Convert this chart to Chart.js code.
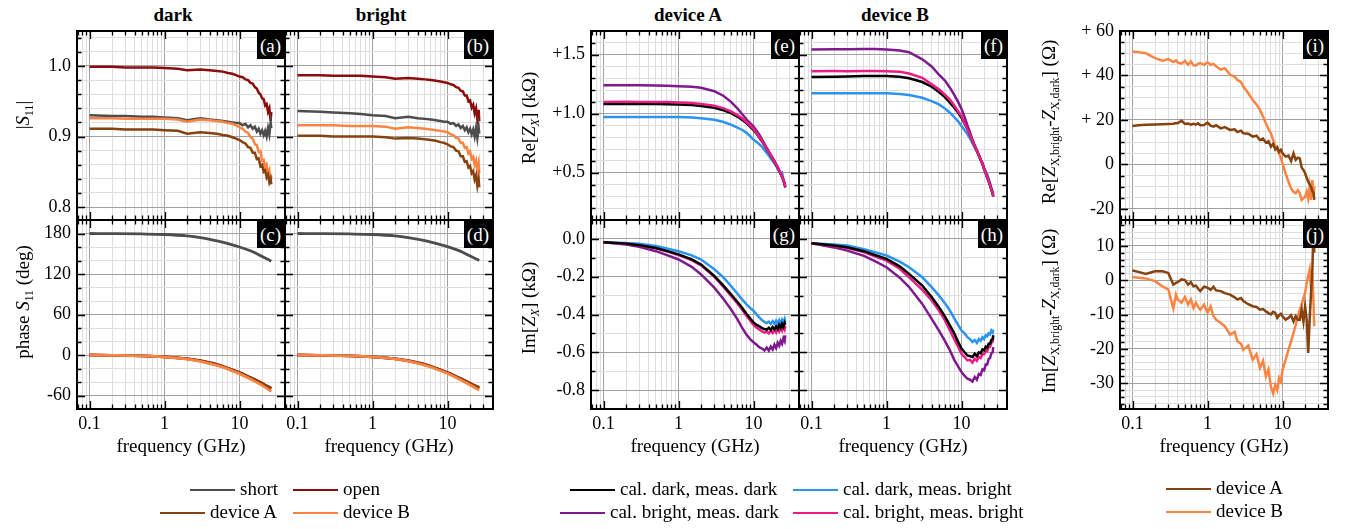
<!DOCTYPE html>
<html><head><meta charset="utf-8">
<script src="https://cdn.jsdelivr.net/npm/chart.js@4/dist/chart.umd.min.js"></script>
<style>
body{margin:0;background:#fff;}
#wrap{position:relative;width:1345px;height:529px;overflow:hidden;font-family:'Liberation Serif','Times New Roman',serif;color:#000;}
canvas.p{position:absolute;left:0;top:0;}
.ti{position:absolute;top:5px;font-weight:bold;font-size:19px;line-height:19px;transform:translateX(-50%);white-space:nowrap;}
.yt{position:absolute;font-size:19px;line-height:19px;white-space:nowrap;transform:translate(-50%,-50%) rotate(-90deg);}
.yt sub{font-size:0.62em;vertical-align:-0.35em;line-height:0;}
.pl{position:absolute;background:#000;color:#fff;font-size:19px;height:27px;line-height:27px;padding:0 3px;}
.lg{position:absolute;height:0;border-top:2.5px solid;width:45px;}
.lt{position:absolute;font-size:19px;line-height:19px;white-space:nowrap;}
</style></head><body><div id="wrap">
<div class="ti" style="left:173px">dark</div>
<div class="ti" style="left:381px">bright</div>
<div class="ti" style="left:688px">device A</div>
<div class="ti" style="left:895px">device B</div>
</div>
<script>
// ---------------- data ----------------
const FREQ = [0.1,0.2,0.3,0.5,0.7, 1,1.5,2,3,4, 5,6,7,8,9, 10,11,12,13,14, 15,16,17,18,19, 20,21,22,23,24, 25,26,26.5];
const FREQ_S = [0.1,0.2,0.5,1,2,3,5,7,10,15,20,26.5];
const FREQ_D = [0.1,0.12,0.15,0.2,0.25,0.3,0.35,0.38,0.4,0.45,
  0.5,0.55,0.6,0.65,0.7,0.75,0.8,0.9,1,1.1,
  1.2,1.3,1.5,1.7,2,2.3,2.5,2.8,3,3.5,
  4,4.5,5,5.5,6,6.5,7,7.5,8,8.5,
  9,9.5,10,11,12,13,14,15,16,17,
  18,19,20,21,22,23,24,25,26,26.5];

// (a) |S11| dark
const A_OPEN  = [0.999,0.999,0.998,0.998,0.998, 0.997,0.996,0.994,0.995,0.994, 0.993,0.992,0.990,0.989,0.987, 0.985,0.984,0.981,0.980,0.976, 0.975,0.970,0.968,0.962,0.960, 0.954,0.953,0.944,0.946,0.935, 0.940,0.922,0.935];
const A_SHORT = [0.930,0.929,0.929,0.928,0.928, 0.927,0.926,0.923,0.926,0.924, 0.923,0.922,0.921,0.920,0.919, 0.919,0.916,0.918,0.913,0.916, 0.911,0.914,0.907,0.911,0.904, 0.909,0.902,0.908,0.900,0.912, 0.903,0.920,0.912];
const A_DEVB  = [0.926,0.926,0.925,0.925,0.925, 0.925,0.924,0.921,0.924,0.923, 0.922,0.921,0.919,0.918,0.916, 0.913,0.911,0.907,0.905,0.899, 0.897,0.889,0.888,0.878,0.879, 0.866,0.867,0.856,0.860,0.847, 0.852,0.835,0.845];
const A_DEVA  = [0.911,0.911,0.910,0.910,0.910, 0.909,0.908,0.904,0.906,0.905, 0.904,0.902,0.901,0.899,0.897, 0.895,0.892,0.890,0.885,0.884, 0.877,0.877,0.868,0.869,0.858, 0.860,0.850,0.852,0.842,0.846, 0.835,0.840,0.832];
// (b) |S11| bright
const B_OPEN  = [0.987,0.987,0.986,0.986,0.986, 0.985,0.984,0.982,0.983,0.982, 0.981,0.980,0.979,0.978,0.977, 0.976,0.974,0.973,0.970,0.969, 0.965,0.964,0.958,0.958,0.950, 0.951,0.941,0.945,0.933,0.940, 0.925,0.938,0.922];
const B_SHORT = [0.936,0.935,0.934,0.933,0.932, 0.930,0.929,0.926,0.928,0.926, 0.925,0.924,0.923,0.922,0.921, 0.921,0.918,0.919,0.915,0.917, 0.912,0.915,0.909,0.913,0.906, 0.911,0.903,0.910,0.900,0.912, 0.898,0.913,0.904];
const B_DEVB  = [0.916,0.916,0.916,0.915,0.915, 0.915,0.914,0.911,0.913,0.912, 0.911,0.910,0.909,0.908,0.907, 0.906,0.903,0.902,0.898,0.897, 0.891,0.891,0.884,0.885,0.876, 0.879,0.868,0.871,0.860,0.866, 0.852,0.862,0.848];
const B_DEVA  = [0.901,0.901,0.900,0.900,0.900, 0.900,0.899,0.897,0.898,0.897, 0.896,0.895,0.894,0.892,0.891, 0.889,0.886,0.885,0.880,0.879, 0.872,0.872,0.864,0.865,0.856, 0.858,0.848,0.851,0.839,0.845, 0.830,0.840,0.828];
// (c) phase dark, (d) phase bright
const C_SHORT = [180,179.8,179.3,178.5,176.5,174,169,165,160,153,146,139];
const C_OPEN  = [0,-0.5,-1.3,-2.7,-5.5,-8.5,-14,-19.5,-26,-35,-42,-50];
const C_DEVA  = [0,-0.5,-1.3,-2.8,-5.7,-8.8,-14.5,-20,-26.5,-35.5,-42.5,-49];
const C_DEVB  = [0,-0.5,-1.4,-3,-6,-9.3,-15.5,-21,-28,-37.5,-45,-54];
const D_SHORT = [180,179.8,179.3,178.5,176.5,174,169.5,165.5,160.5,153.5,146.5,140];
const D_OPEN  = [0,-0.5,-1.3,-2.7,-5.5,-8.5,-14,-19.5,-26,-35,-42,-49.5];
const D_DEVA  = [0,-0.5,-1.3,-2.8,-5.6,-8.7,-14.3,-19.8,-26.3,-35.3,-42.3,-48];
const D_DEVB  = [0,-0.5,-1.4,-2.9,-5.9,-9.1,-15.2,-20.7,-27.5,-37,-44.5,-52];
// (e) Re Z device A  (kOhm)
const E_CDMD = [1.082,1.083,1.082,1.081,1.080, 1.078,1.073,1.066,1.050,1.028, 1.005,0.978,0.950,0.920,0.890, 0.860,0.830,0.797,0.765,0.732, 0.700,0.672,0.645,0.618,0.592, 0.566,0.542,0.516,0.492,0.466, 0.436,0.405,0.375];
const E_CDMB = [0.972,0.973,0.972,0.973,0.972, 0.972,0.968,0.962,0.949,0.930, 0.907,0.885,0.864,0.840,0.810, 0.780,0.760,0.740,0.720,0.692, 0.667,0.645,0.620,0.600,0.580, 0.560,0.535,0.510,0.490,0.500, 0.450,0.410,0.400];
const E_CBMD = [1.240,1.241,1.240,1.239,1.237, 1.232,1.228,1.220,1.190,1.150, 1.100,1.050,1.000,0.955,0.920, 0.890,0.855,0.820,0.780,0.745, 0.710,0.680,0.650,0.625,0.600, 0.570,0.550,0.520,0.500,0.465, 0.440,0.405,0.380];
const E_CBMB = [1.100,1.101,1.100,1.100,1.098, 1.095,1.090,1.083,1.068,1.045, 1.020,0.990,0.963,0.930,0.900, 0.868,0.835,0.800,0.770,0.735, 0.703,0.675,0.647,0.620,0.595, 0.570,0.545,0.520,0.495,0.470, 0.440,0.410,0.380];
// (f) Re Z device B
const F_CDMD = [1.310,1.312,1.315,1.318,1.318, 1.318,1.312,1.300,1.268,1.228, 1.183,1.140,1.093,1.050,1.010, 0.966,0.915,0.868,0.820,0.770, 0.727,0.688,0.648,0.610,0.576, 0.531,0.498,0.460,0.430,0.393, 0.360,0.326,0.300];
const F_CDMB = [1.172,1.172,1.173,1.173,1.172, 1.172,1.166,1.158,1.135,1.107, 1.079,1.045,1.008,0.970,0.935, 0.896,0.860,0.825,0.790,0.750, 0.713,0.680,0.645,0.610,0.580, 0.540,0.510,0.490,0.450,0.412, 0.372,0.340,0.320];
const F_CBMD = [1.544,1.545,1.546,1.548,1.547, 1.544,1.535,1.520,1.460,1.400, 1.330,1.280,1.220,1.160,1.100, 1.040,0.970,0.900,0.840,0.780, 0.730,0.690,0.650,0.610,0.580, 0.535,0.500,0.460,0.430,0.395, 0.360,0.325,0.300];
const F_CBMB = [1.360,1.361,1.360,1.362,1.361, 1.360,1.355,1.340,1.304,1.248, 1.206,1.160,1.120,1.070,1.020, 0.980,0.920,0.868,0.820,0.770, 0.727,0.690,0.650,0.612,0.578, 0.533,0.500,0.462,0.432,0.395, 0.362,0.328,0.300];
// (g) Im Z device A
const G_CDMD = [-0.018,-0.025,-0.033,-0.048,-0.064, -0.082,-0.108,-0.135,-0.196,-0.249, -0.293,-0.330,-0.363,-0.395,-0.420, -0.442,-0.455,-0.463,-0.472,-0.477, -0.480,-0.470,-0.482,-0.466,-0.478, -0.462,-0.476,-0.455,-0.470,-0.450, -0.465,-0.445,-0.455];
const G_CDMB = [-0.018,-0.022,-0.026,-0.038,-0.050, -0.065,-0.087,-0.109,-0.161,-0.205, -0.249,-0.286,-0.319,-0.345,-0.365, -0.380,-0.400,-0.416,-0.430,-0.440, -0.445,-0.438,-0.450,-0.435,-0.448, -0.432,-0.448,-0.430,-0.450,-0.428, -0.445,-0.425,-0.440];
const G_CBMD = [-0.018,-0.030,-0.042,-0.065,-0.086, -0.109,-0.148,-0.188,-0.258,-0.319, -0.372,-0.420,-0.468,-0.505,-0.530, -0.547,-0.560,-0.574,-0.580,-0.590, -0.575,-0.592,-0.570,-0.585,-0.560, -0.578,-0.550,-0.565,-0.540,-0.555, -0.525,-0.540,-0.510];
const G_CBMB = [-0.018,-0.026,-0.034,-0.050,-0.066, -0.085,-0.112,-0.140,-0.200,-0.255, -0.300,-0.338,-0.372,-0.405,-0.432, -0.455,-0.470,-0.480,-0.490,-0.495, -0.490,-0.500,-0.485,-0.498,-0.480, -0.495,-0.475,-0.490,-0.468,-0.485, -0.460,-0.478,-0.460];
// (h) Im Z device B
const H_CDMD = [-0.023,-0.035,-0.044,-0.065,-0.085, -0.106,-0.145,-0.185,-0.247,-0.308, -0.361,-0.410,-0.458,-0.500,-0.545, -0.580,-0.600,-0.617,-0.620,-0.625, -0.608,-0.620,-0.600,-0.605,-0.585, -0.590,-0.570,-0.575,-0.555,-0.555, -0.535,-0.530,-0.510];
const H_CDMB = [-0.023,-0.030,-0.035,-0.055,-0.070, -0.088,-0.120,-0.150,-0.203,-0.255, -0.300,-0.340,-0.379,-0.420,-0.455, -0.485,-0.500,-0.520,-0.530,-0.545, -0.535,-0.550,-0.530,-0.540,-0.520, -0.530,-0.510,-0.515,-0.500,-0.505, -0.485,-0.495,-0.480];
const H_CBMD = [-0.023,-0.045,-0.062,-0.090,-0.118, -0.150,-0.205,-0.255,-0.344,-0.423, -0.485,-0.540,-0.590,-0.640,-0.675, -0.705,-0.725,-0.740,-0.745,-0.755, -0.731,-0.745,-0.715,-0.720,-0.690, -0.695,-0.665,-0.665,-0.635,-0.630, -0.605,-0.600,-0.573];
const H_CBMB = [-0.023,-0.037,-0.048,-0.070,-0.092, -0.115,-0.158,-0.203,-0.270,-0.326, -0.379,-0.430,-0.485,-0.530,-0.570, -0.608,-0.625,-0.643,-0.640,-0.655, -0.634,-0.645,-0.625,-0.630,-0.610, -0.610,-0.590,-0.595,-0.570,-0.570, -0.550,-0.545,-0.520];
// (i) Re[Zbright - Zdark] (Ohm)
const I_DEVA = [17.3,17.6,17.8,18.0,18.1,18.2,18.3,18.6,18.5,19.7,
  18.2,18.4,17.9,18.3,17.9,18.5,17.6,17.7,18.8,17.4,
  17.0,17.6,16.2,16.8,15.5,15.8,14.6,15.2,14.0,13.8,
  12.5,12.9,11.0,11.6,9.8,10.4,8.0,9.2,6.8,7.8,
  5.6,6.6,5.0,3.5,4.0,1.5,5.0,2.0,3.0,2.7,
  -1.5,-2.5,-4.0,-6.0,-7.8,-9.0,-10.0,-12.0,-13.0,-16.0];
const I_DEVB = [50.8,50.5,50.0,47.8,46.6,47.4,46.0,46.8,45.9,45.3,
  46.6,44.8,46.3,44.6,44.5,45.2,45.6,44.8,45.9,44.8,
  45.2,44.1,42.6,43.3,40.3,39.5,38.0,37.0,35.0,32.0,
  29.0,27.0,24.5,21.5,18.5,16.0,14.0,11.0,8.0,6.5,
  5.0,3.0,0.5,-4.0,-7.8,-10.8,-12.3,-13.0,-11.6,-13.0,
  -16.0,-15.3,-14.6,-12.3,-15.3,-10.0,-16.0,-7.0,-14.6,-10.0];
// (j) Im[Zbright - Zdark] (Ohm)
const J_DEVA = [2.8,2.4,1.8,2.6,2.6,2.1,-1.3,-0.8,-0.6,0.2,
  0.0,-1.3,-0.6,-1.8,-1.6,-2.5,-3.2,-1.9,-2.2,-2.8,
  -1.9,-3.0,-3.2,-3.8,-4.2,-5.0,-5.6,-5.2,-6.1,-7.0,
  -7.6,-7.8,-8.6,-8.4,-9.1,-9.6,-10.0,-9.2,-9.5,-11.0,
  -10.2,-9.8,-10.5,-11.5,-11.0,-10.2,-12.0,-10.5,-11.5,-11.5,
  -8.6,-12.0,-7.6,-11.5,-21.2,-11.5,-3.7,3.0,17.0,8.0];
const J_DEVB = [0.9,0.7,0.5,-0.3,-1.8,-2.7,-8.3,-4.2,-5.6,-6.6,
  -4.9,-7.1,-5.6,-8.1,-6.6,-7.8,-8.6,-7.1,-9.5,-7.6,
  -10.5,-11.5,-12.5,-13.4,-15.9,-15.0,-17.8,-18.5,-20.3,-19.0,
  -23.2,-21.5,-25.6,-23.5,-28.0,-26.0,-31.0,-33.0,-30.5,-32.0,
  -28.5,-29.5,-26.1,-23.2,-20.3,-17.8,-15.4,-13.0,-10.5,-8.6,
  -7.1,-5.2,-3.7,-0.8,1.2,3.1,-2.7,2.1,-7.6,-13.4];

// tick labels
const X_TICKS = [0.07,0.08,0.09,0.1,0.2,0.3,0.4,0.5,0.6,0.7,0.8,0.9,1,2,3,4,5,6,7,8,9,10,20,30,40];
const X_MAJOR = [0.1,1,10];
const X_LABELS = ['0.1','1','10'];
const YA_MAJOR = [0.8,0.9,1.0];          const YA_LABELS = ['0.8','0.9','1.0'];
const YC_MAJOR = [-60,0,60,120,180];      const YC_LABELS = ['-60','0','60','120','180'];
const YE_MAJOR = [0.5,1.0,1.5];           const YE_LABELS = ['+0.5','+1.0','+1.5'];
const YG_MAJOR = [-0.8,-0.6,-0.4,-0.2,0]; const YG_LABELS = ['-0.8','-0.6','-0.4','-0.2','0.0'];
const YI_MAJOR = [-20,0,20,40,60];        const YI_LABELS = ['-20','0','+ 20','+ 40','+ 60'];
const YJ_MAJOR = [-30,-20,-10,0,10];      const YJ_LABELS = ['-30','-20','-10','0','10'];

// colours
const C_SHORT_COL = '#4d4d4d', C_OPEN_COL = '#8b0c0c', C_A = '#86420f', C_B = '#fb8442';
const C_BLACK = '#000000', C_BLUE = '#2b93f0', C_PURPLE = '#7e1a8e', C_PINK = '#ec1b85';

// ---------------- drawing ----------------
const FONT = "'Liberation Serif','Times New Roman',serif";
Chart.defaults.font.family = FONT;
Chart.defaults.color = '#000';
const wrap = document.getElementById('wrap');
const XMIN = 0.0681, XMAX = 40.4;
const ROWS = {top:31, mid:220, bot:409};

const framePlugin = {
  id: 'frame',
  afterDatasetsDraw(chart) {
    const {ctx, chartArea: a, scales} = chart;
    ctx.save();
    ctx.strokeStyle = '#000';
    ctx.lineWidth = 1.3;
    ctx.beginPath();
    for (const t of scales.x.ticks) {
      const p = Math.round(scales.x.getPixelForValue(t.value)) + 0.5;
      if (p < a.left + 1 || p > a.right - 1) continue;
      const L = t.major ? 8 : 4.5;
      ctx.moveTo(p, a.bottom); ctx.lineTo(p, a.bottom - L);
      ctx.moveTo(p, a.top); ctx.lineTo(p, a.top + L);
    }
    for (const t of scales.y.ticks) {
      const p = Math.round(scales.y.getPixelForValue(t.value)) + 0.5;
      if (p < a.top + 1 || p > a.bottom - 1) continue;
      const L = t.major ? 8 : 4.5;
      ctx.moveTo(a.left, p); ctx.lineTo(a.left + L, p);
      ctx.moveTo(a.right, p); ctx.lineTo(a.right - L, p);
    }
    ctx.stroke();
    ctx.lineWidth = 2;
    ctx.strokeRect(a.left, a.top, a.right - a.left, a.bottom - a.top);
    ctx.restore();
  }
};

function ds(freq, vals, color, smooth) {
  return {
    data: freq.map((f, i) => ({x: f, y: vals[i]})),
    borderColor: color, backgroundColor: color, borderWidth: smooth ? 2.8 : 2.5,
    pointRadius: 0, fill: false, tension: 0,
    cubicInterpolationMode: smooth ? 'monotone' : 'default'
  };
}

function panel(l, r, t, b, xLabels, y, datasets) {
  const cv = document.createElement('canvas');
  cv.width = 1345; cv.height = 529; cv.className = 'p';
  wrap.appendChild(cv);
  const YW = 60, XH = xLabels ? 55 : 0;
  const gridColor = c => (c.tick && c.tick.major) ? '#a0a0a0' : '#dedede';
  const yTicks = [];
  for (let k = Math.ceil(y.min / y.step - 1e-9); k * y.step <= y.max + 1e-9; k++) yTicks.push(+(k * y.step).toFixed(6));
  const isMaj = v => y.majors.some(m => Math.abs(m - v) < 1e-6);
  new Chart(cv, {
    type: 'line',
    data: {datasets},
    options: {
      responsive: false, animation: false, events: [],
      layout: {padding: {left: l - YW, top: t, right: 1345 - r, bottom: 529 - b - XH}},
      plugins: {legend: {display: false}, tooltip: {enabled: false}},
      scales: {
        x: {
          type: 'logarithmic', min: XMIN, max: XMAX, bounds: 'data',
          afterBuildTicks: s => { s.ticks = X_TICKS.map(v => ({value: v, major: X_MAJOR.includes(v)})); },
          afterFit: s => { s.height = XH; },
          ticks: {display: xLabels, autoSkip: false, maxRotation: 0, minRotation: 0, padding: 4,
            font: {size: 18, family: FONT}, color: '#000',
            callback: v => { const i = X_MAJOR.indexOf(v); return i >= 0 ? X_LABELS[i] : ''; }},
          grid: {drawTicks: false, color: gridColor, lineWidth: 1},
          border: {display: false},
          title: {display: xLabels, text: 'frequency (GHz)', font: {size: 19, family: FONT}, color: '#000', padding: {top: 0, bottom: 6}}
        },
        y: {
          type: 'linear', min: y.min, max: y.max, bounds: 'data',
          afterBuildTicks: s => { s.ticks = yTicks.map(v => ({value: v, major: isMaj(v)})); },
          afterFit: s => { s.width = YW; },
          ticks: {display: !!y.labels, autoSkip: false, padding: 6, font: {size: 18, family: FONT}, color: '#000',
            callback: v => { const i = y.majors.findIndex(m => Math.abs(m - v) < 1e-6); return (i >= 0 && y.labels) ? y.labels[i] : ''; }},
          grid: {drawTicks: false, color: gridColor, lineWidth: 1},
          border: {display: false}
        }
      }
    },
    plugins: [framePlugin]
  });
}

const yA = {min: 0.7816, max: 1.0496, step: 0.02, majors: YA_MAJOR};
const yC = {min: -80, max: 200, step: 20, majors: YC_MAJOR};
const yE = {min: 0.1, max: 1.7, step: 0.1, majors: YE_MAJOR};
const yG = {min: -0.9, max: 0.1, step: 0.1, majors: YG_MAJOR};
const yI = {min: -25, max: 60, step: 5, majors: YI_MAJOR, labels: YI_LABELS};
const yJ = {min: -37.5, max: 17.5, step: 2, majors: YJ_MAJOR, labels: YJ_LABELS};

// (a)
panel(77, 285, ROWS.top, ROWS.mid, false, Object.assign({}, yA, {labels: YA_LABELS}), [
  ds(FREQ, A_DEVA, C_A), ds(FREQ, A_DEVB, C_B), ds(FREQ, A_SHORT, C_SHORT_COL), ds(FREQ, A_OPEN, C_OPEN_COL)]);
// (b)
panel(285, 493, ROWS.top, ROWS.mid, false, yA, [
  ds(FREQ, B_DEVA, C_A), ds(FREQ, B_DEVB, C_B), ds(FREQ, B_SHORT, C_SHORT_COL), ds(FREQ, B_OPEN, C_OPEN_COL)]);
// (c)
panel(77, 285, ROWS.mid, ROWS.bot, true, Object.assign({}, yC, {labels: YC_LABELS}), [
  ds(FREQ_S, C_SHORT, C_SHORT_COL, true), ds(FREQ_S, C_DEVB, C_B, true), ds(FREQ_S, C_DEVA, C_A, true), ds(FREQ_S, C_OPEN, C_OPEN_COL, true)]);
// (d)
panel(285, 493, ROWS.mid, ROWS.bot, true, yC, [
  ds(FREQ_S, D_SHORT, C_SHORT_COL, true), ds(FREQ_S, D_DEVB, C_B, true), ds(FREQ_S, D_DEVA, C_A, true), ds(FREQ_S, D_OPEN, C_OPEN_COL, true)]);
// (e)
panel(591, 799, ROWS.top, ROWS.mid, false, Object.assign({}, yE, {labels: YE_LABELS}), [
  ds(FREQ, E_CBMB, C_PINK), ds(FREQ, E_CDMD, C_BLACK), ds(FREQ, E_CBMD, C_PURPLE), ds(FREQ, E_CDMB, C_BLUE)]);
// (f)
panel(799, 1007, ROWS.top, ROWS.mid, false, yE, [
  ds(FREQ, F_CBMB, C_PINK), ds(FREQ, F_CDMD, C_BLACK), ds(FREQ, F_CBMD, C_PURPLE), ds(FREQ, F_CDMB, C_BLUE)]);
// (g)
panel(591, 799, ROWS.mid, ROWS.bot, true, Object.assign({}, yG, {labels: YG_LABELS}), [
  ds(FREQ, G_CDMD, C_BLACK), ds(FREQ, G_CBMB, C_PINK), ds(FREQ, G_CBMD, C_PURPLE), ds(FREQ, G_CDMB, C_BLUE)]);
// (h)
panel(799, 1007, ROWS.mid, ROWS.bot, true, yG, [
  ds(FREQ, H_CDMD, C_BLACK), ds(FREQ, H_CBMB, C_PINK), ds(FREQ, H_CBMD, C_PURPLE), ds(FREQ, H_CDMB, C_BLUE)]);
// (i)
panel(1120, 1328, ROWS.top, ROWS.mid, false, yI, [
  ds(FREQ_D, I_DEVA, C_A), ds(FREQ_D, I_DEVB, C_B)]);
// (j)
panel(1120, 1328, ROWS.mid, ROWS.bot, true, yJ, [
  ds(FREQ_D, J_DEVA, C_A), ds(FREQ_D, J_DEVB, C_B)]);

// ---------------- HTML overlays: axis titles, panel tags, legends ----------------
function add(html) { wrap.insertAdjacentHTML('beforeend', html); }
const yTitles = [
  [22, 115, '|<i>S</i><sub>11</sub>|'],
  [22, 302, 'phase <i>S</i><sub>11</sub> (deg)'],
  [528, 118, 'Re[<i>Z</i><sub><i>X</i></sub>] (kΩ)'],
  [528, 308, 'Im[<i>Z</i><sub><i>X</i></sub>] (kΩ)'],
  [1048, 122, 'Re[<i>Z</i><sub>X,bright</sub>-<i>Z</i><sub>X,dark</sub>] (Ω)'],
  [1048, 311, 'Im[<i>Z</i><sub>X,bright</sub>-<i>Z</i><sub>X,dark</sub>] (Ω)']
];
for (const [x, y, h] of yTitles) add(`<div class="yt" style="left:${x}px;top:${y}px">${h}</div>`);
const tags = [['(a)',285,31],['(b)',493,31],['(c)',285,220],['(d)',493,220],['(e)',799,31],['(f)',1007,31],
  ['(g)',799,220],['(h)',1007,220],['(i)',1328,31],['(j)',1328,220]];
for (const [s, r, t] of tags) add(`<div class="pl" style="right:${1345 - r + 1}px;top:${t + 1}px">${s}</div>`);
const legend = [
  [190, 490, C_SHORT_COL, 'short'], [293, 490, C_OPEN_COL, 'open'],
  [160, 513, C_A, 'device A'], [293, 513, C_B, 'device B'],
  [570, 490, C_BLACK, 'cal. dark, meas. dark'], [793, 490, C_BLUE, 'cal. dark, meas. bright'],
  [560, 513, C_PURPLE, 'cal. bright, meas. dark'], [793, 513, C_PINK, 'cal. bright, meas. bright'],
  [1166, 489, C_A, 'device A'], [1166, 512, C_B, 'device B']
];
for (const [x, y, c, s] of legend) {
  add(`<div class="lg" style="left:${x}px;top:${y - 1}px;border-color:${c}"></div>`);
  add(`<div class="lt" style="left:${x + 50}px;top:${y - 11}px">${s}</div>`);
}
</script>
</body></html>
